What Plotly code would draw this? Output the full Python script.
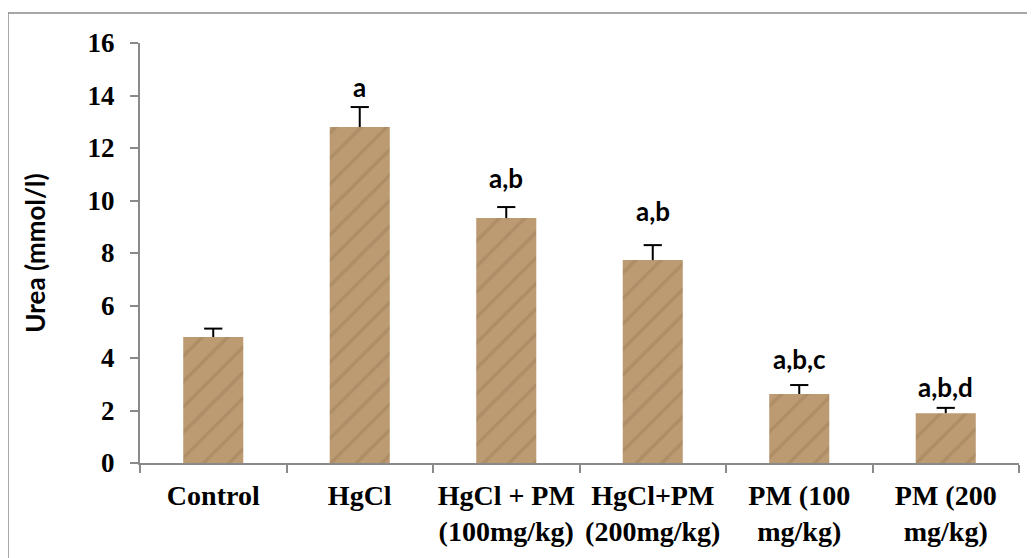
import plotly.graph_objects as go

categories = ["Control", "HgCl", "HgCl + PM<br>(100mg/kg)", "HgCl+PM<br>(200mg/kg)", "PM (100<br>mg/kg)", "PM (200<br>mg/kg)"]
urea = [4.8, 12.8, 9.33, 7.73, 2.63, 1.9]
urea_err = [0.32, 0.76, 0.42, 0.57, 0.34, 0.2]
sig_labels = ["", "a", "a,b", "a,b", "a,b,c", "a,b,d"]
sig_label_y = [0, 14.32, 10.86, 9.6, 3.98, 2.88]

axis_gray = "#8a8a8a"

fig = go.Figure()
fig.add_trace(go.Bar(
    x=categories, y=urea, width=0.41,
    marker=dict(
        color="#bc9b72",
        line=dict(width=0),
        pattern=dict(shape="/", fgcolor="#7d5f3c", fgopacity=0.22, size=18, solidity=0.2),
    ),
    showlegend=False, hoverinfo="x+y",
))

# upper-only error bars: stem from bar top to mean+SE, cap at the top
err_top = [v + e for v, e in zip(urea, urea_err)]
fig.add_trace(go.Scatter(
    x=categories, y=err_top, mode="markers",
    marker=dict(symbol="line-ew-open", size=13, color="black", line=dict(color="black", width=2)),
    error_y=dict(type="data", array=[0] * len(urea), arrayminus=urea_err, symmetric=False,
                 color="black", thickness=2, width=0),
    showlegend=False, hoverinfo="skip",
))

for c, lab, yy in zip(categories, sig_labels, sig_label_y):
    if lab:
        fig.add_annotation(x=c, y=yy, text=lab, showarrow=False, yanchor="middle",
                           font=dict(family="Lato", size=26, color="black", weight="bold"))

# outer frame
fig.add_shape(type="rect", xref="paper", yref="paper", x0=-0.1502, x1=1.2, y0=-0.5, y1=1.0714,
              line=dict(color=axis_gray, width=1.5), fillcolor="rgba(0,0,0,0)")

fig.update_layout(
    width=1035, height=558,
    margin=dict(l=132, r=24, t=35, b=103),
    paper_bgcolor="white", plot_bgcolor="white",
    bargap=0.59,
    xaxis=dict(
        showline=True, linecolor=axis_gray, linewidth=2,
        ticks="outside", tickson="boundaries", ticklen=8, tickcolor=axis_gray, tickwidth=2,
        tickangle=0, automargin=False,
        tickfont=dict(family="Liberation Serif", size=28, color="black", weight="bold"),
        ticklabelstandoff=6,
        showgrid=False, zeroline=False, fixedrange=True,
    ),
    yaxis=dict(
        range=[0, 16], dtick=2, automargin=False,
        showline=True, linecolor=axis_gray, linewidth=2,
        ticks="outside", ticklen=8, tickcolor=axis_gray, tickwidth=2,
        tickfont=dict(family="Liberation Serif", size=27, color="black", weight="bold"),
        ticklabelstandoff=10,
        showgrid=False, zeroline=False,
        title=dict(text="Urea (mmol/l)", font=dict(family="Lato", size=26, color="black", weight="bold"), standoff=34),
    ),
)

fig.write_html("out.html")
